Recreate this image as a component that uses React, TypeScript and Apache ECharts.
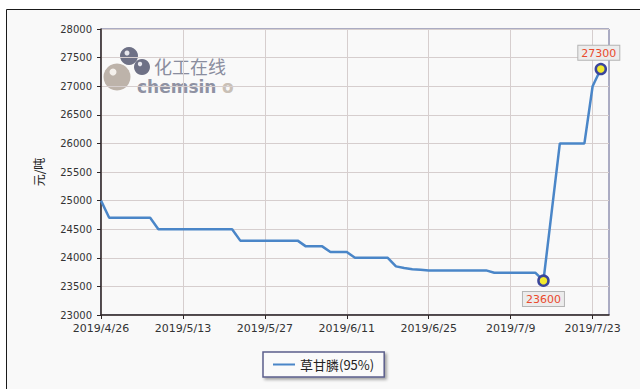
import React, { useEffect, useRef } from "react";
import * as echarts from "echarts";

const categories: string[] = [
  "2019/4/26", "2019/4/28", "2019/4/29", "2019/4/30", "2019/5/5", "2019/5/6", "2019/5/7", "2019/5/8", "2019/5/9", "2019/5/10",
  "2019/5/13", "2019/5/14", "2019/5/15", "2019/5/16", "2019/5/17", "2019/5/20", "2019/5/21", "2019/5/22", "2019/5/23", "2019/5/24",
  "2019/5/27", "2019/5/28", "2019/5/29", "2019/5/30", "2019/5/31", "2019/6/3", "2019/6/4", "2019/6/5", "2019/6/6", "2019/6/10",
  "2019/6/11", "2019/6/12", "2019/6/13", "2019/6/14", "2019/6/17", "2019/6/18", "2019/6/19", "2019/6/20", "2019/6/21", "2019/6/24",
  "2019/6/25", "2019/6/26", "2019/6/27", "2019/6/28", "2019/7/1", "2019/7/2", "2019/7/3", "2019/7/4", "2019/7/5", "2019/7/8",
  "2019/7/9", "2019/7/10", "2019/7/11", "2019/7/12", "2019/7/15", "2019/7/16", "2019/7/17", "2019/7/18", "2019/7/19", "2019/7/22",
  "2019/7/23", "2019/7/24", "2019/7/25",
];

const seriesName = "草甘膦(95%)";
const prices: number[] = [
  25000,
  24700, 24700, 24700, 24700, 24700, 24700,
  24500, 24500, 24500, 24500, 24500, 24500, 24500, 24500, 24500, 24500,
  24300, 24300, 24300, 24300, 24300, 24300, 24300, 24300,
  24200, 24200, 24200,
  24100, 24100, 24100,
  24000, 24000, 24000, 24000, 24000,
  23850, 23820, 23800, 23790,
  23780, 23780, 23780, 23780, 23780, 23780, 23780, 23780,
  23740, 23740, 23740, 23740, 23740, 23740,
  23600,
  24800,
  26000, 26000, 26000, 26000,
  27000,
  27300,
];

const yMin = 23000;
const yMax = 28000;
const yStep = 500;
const yName = "元/吨";

export default function App() {
  const ref = useRef<HTMLDivElement>(null);
  useEffect(() => {
    if (!ref.current) return;
    const chart = echarts.init(ref.current, null, { renderer: "svg" });
    const axisFont = "DejaVu Sans";
    chart.setOption({
      animation: false,
      backgroundColor: "#ffffff",
      graphic: [
        {
          type: "rect",
          z: -10,
          shape: { x: 6.5, y: 9.5, width: 700, height: 400 },
          style: { fill: "#f9f9f9", stroke: "#1a1a1a", lineWidth: 1 },
        },
        {
          type: "group",
          z: 1,
          children: [
            { type: "circle", shape: { cx: 117, cy: 77, r: 13.5 }, style: { fill: "#bdb3aa" } },
            { type: "circle", shape: { cx: 113, cy: 72, r: 3.5 }, style: { fill: "#f4f0ec" } },
            { type: "circle", shape: { cx: 129, cy: 56, r: 9 }, style: { fill: "#6e7186" } },
            { type: "circle", shape: { cx: 127, cy: 53, r: 2.5 }, style: { fill: "#e8e8ee" } },
            { type: "circle", shape: { cx: 142, cy: 67, r: 8 }, style: { fill: "#6e7186" } },
            { type: "circle", shape: { cx: 140, cy: 64, r: 2.2 }, style: { fill: "#e8e8ee" } },
            {
              type: "text",
              x: 154,
              y: 57,
              style: {
                text: "化工在线",
                font: "18px 'Noto Sans CJK SC'",
                fill: "#8a8d9e",
                textVerticalAlign: "top",
              },
            },
            {
              type: "text",
              x: 137,
              y: 78,
              style: {
                text: "chemsin",
                font: "bold 17px 'DejaVu Sans'",
                fill: "#8f92a3",
                textVerticalAlign: "top",
              },
            },
            {
              type: "text",
              x: 222,
              y: 78,
              style: {
                text: "o",
                font: "bold 17px 'DejaVu Sans'",
                fill: "#c9c0b6",
                textVerticalAlign: "top",
              },
            },
          ],
        },
      ],
      grid: {
        left: 101,
        right: 31,
        top: 29,
        bottom: 74,
        show: true,
        borderColor: "#5c5f8c",
        borderWidth: 1,
        backgroundColor: "transparent",
      },
      legend: {
        left: 263,
        top: 352,
        data: [seriesName],
        icon: "rect",
        itemWidth: 22,
        itemHeight: 2,
        itemGap: 7,
        padding: [6, 10],
        backgroundColor: "#fafafa",
        borderColor: "#5c5f8c",
        borderWidth: 1.5,
        shadowColor: "rgba(0,0,0,0.35)",
        shadowBlur: 3,
        shadowOffsetX: 2,
        shadowOffsetY: 2,
        textStyle: {
          fontFamily: "'Noto Sans CJK SC'",
          fontSize: 13,
          color: "#222",
        },
      },
      xAxis: {
        type: "category",
        boundaryGap: false,
        data: categories,
        axisLine: { show: true, lineStyle: { color: "#2e2626", width: 1.5 } },
        axisTick: { show: true, interval: 9, length: 4, lineStyle: { color: "#2e2626" } },
        axisLabel: {
          interval: 9,
          margin: 8,
          fontFamily: axisFont,
          fontSize: 11,
          color: "#333",
        },
        splitLine: { show: true, interval: 9, lineStyle: { color: "#d6cece", width: 1 } },
      },
      yAxis: {
        type: "value",
        min: yMin,
        max: yMax,
        interval: yStep,
        name: yName,
        nameLocation: "middle",
        nameRotate: 90,
        nameGap: 57,
        nameTextStyle: { fontFamily: "'Noto Sans CJK SC'", fontSize: 12, color: "#222" },
        axisLine: { show: true, lineStyle: { color: "#2e2626", width: 1.5 } },
        axisTick: { show: true, length: 4, lineStyle: { color: "#2e2626" } },
        axisLabel: {
          margin: 9,
          fontFamily: axisFont,
          fontSize: 10,
          color: "#333",
          formatter: (v: number) => String(v),
        },
        splitLine: { show: true, lineStyle: { color: "#d6cece", width: 1 } },
      },
      series: [
        {
          name: seriesName,
          type: "line",
          data: prices,
          showSymbol: false,
          symbol: "none",
          z: 3,
          lineStyle: { color: "#4a86c8", width: 2.5 },
          itemStyle: { color: "#4a86c8" },
          markPoint: {
            symbol: "circle",
            symbolSize: 10,
            itemStyle: { color: "#f2ea2e", borderColor: "#3a469c", borderWidth: 2.5 },
            label: {
              show: true,
              formatter: "{c}",
              color: "#ea4a2c",
              fontFamily: axisFont,
              fontSize: 11,
              backgroundColor: "#ececec",
              borderColor: "#b4b4b4",
              borderWidth: 1,
              padding: [2, 3, 1, 3],
            },
            data: [
              { type: "max", label: { position: "top", distance: 3, offset: [-2, 0] } },
              { type: "min", label: { position: "bottom", distance: 5 } },
            ],
          },
        },
      ],
    });
    return () => chart.dispose();
  }, []);
  return (
    <div
      ref={ref}
      style={{ position: "absolute", left: 0, top: 0, width: 640, height: 389 }}
    />
  );
}
